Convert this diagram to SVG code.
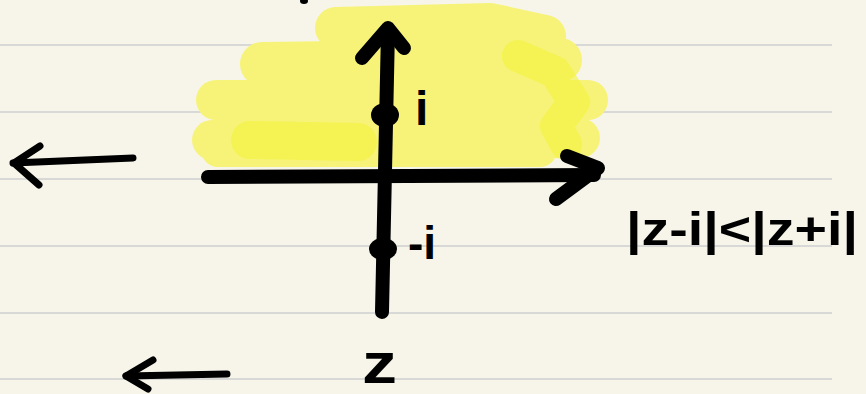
<svg xmlns="http://www.w3.org/2000/svg" width="866" height="394" viewBox="0 0 866 394">
<style>
.rule{stroke:#d8d8d6;stroke-width:2}
.hl{fill:none;stroke:#f6f378;stroke-linecap:round;stroke-linejoin:round}
.hl2{fill:none;stroke:#f5f33a;stroke-linecap:round;stroke-linejoin:round;opacity:0.6}
.ink{fill:none;stroke:#000;stroke-linecap:round;stroke-linejoin:round}
.lbl{font-family:"Liberation Sans",Arial,sans-serif;font-weight:bold;fill:#000}
</style>
<rect width="866" height="394" fill="#f7f5e9"/>
<g id="rules">
<line class="rule" x1="0" y1="45" x2="832" y2="45"/>
<line class="rule" x1="0" y1="112" x2="832" y2="112"/>
<line class="rule" x1="0" y1="179" x2="832" y2="179"/>
<line class="rule" x1="0" y1="246" x2="832" y2="246"/>
<line class="rule" x1="0" y1="313" x2="832" y2="313"/>
<line class="rule" x1="0" y1="379" x2="832" y2="379"/>
</g>
<g id="region">
<path class="hl" stroke-width="42" d="M336,28 L490,24 L545,36"/>
<path class="hl" stroke-width="44" d="M262,64 L560,60"/>
<path class="hl" stroke-width="40" d="M216,100 L588,100"/>
<path class="hl" stroke-width="40" d="M212,140 L580,138"/>
<path class="hl" stroke-width="34" d="M218,150 L540,150"/>
<path class="hl2" stroke-width="38" d="M250,140 L358,142"/>
<path class="hl2" stroke-width="32" d="M518,56 L555,72 L574,102 L556,126 L566,144"/>
</g>
<g id="mark">
<ellipse cx="304" cy="1" rx="4" ry="3" fill="#000"/>
</g>
<g id="axes">
<path class="ink" stroke-width="14" d="M208,177 L594,175"/>
<path class="ink" stroke-width="14" d="M567,156 L598,168 L556,199"/>
<path class="ink" stroke-width="14" d="M388,30 L382,312"/>
<path class="ink" stroke-width="14" d="M362,58 L388,28 L404,48"/>
</g>
<g id="point-i">
<ellipse cx="385" cy="115" rx="14" ry="12" fill="#000"/>
<text class="lbl" x="415" y="125" font-size="48">i</text>
</g>
<g id="point-minus-i">
<ellipse cx="383" cy="249" rx="14" ry="11" fill="#000"/>
<text class="lbl" x="408" y="259" font-size="46">-i</text>
</g>
<g id="condition">
<text class="lbl" x="626" y="245" font-size="46" textLength="232" lengthAdjust="spacingAndGlyphs">|z-i|&lt;|z+i|</text>
</g>
<g id="z-label">
<text class="lbl" x="362" y="383" font-size="58" textLength="35" lengthAdjust="spacingAndGlyphs">z</text>
</g>
<g id="connectors">
<path class="ink" stroke-width="7" d="M133,158 L13,163"/>
<path class="ink" stroke-width="7" d="M40,146 L14,163 L39,185"/>
<path class="ink" stroke-width="7" d="M227,374 L126,376"/>
<path class="ink" stroke-width="7" d="M153,360 L126,376 L148,389"/>
</g>
</svg>
